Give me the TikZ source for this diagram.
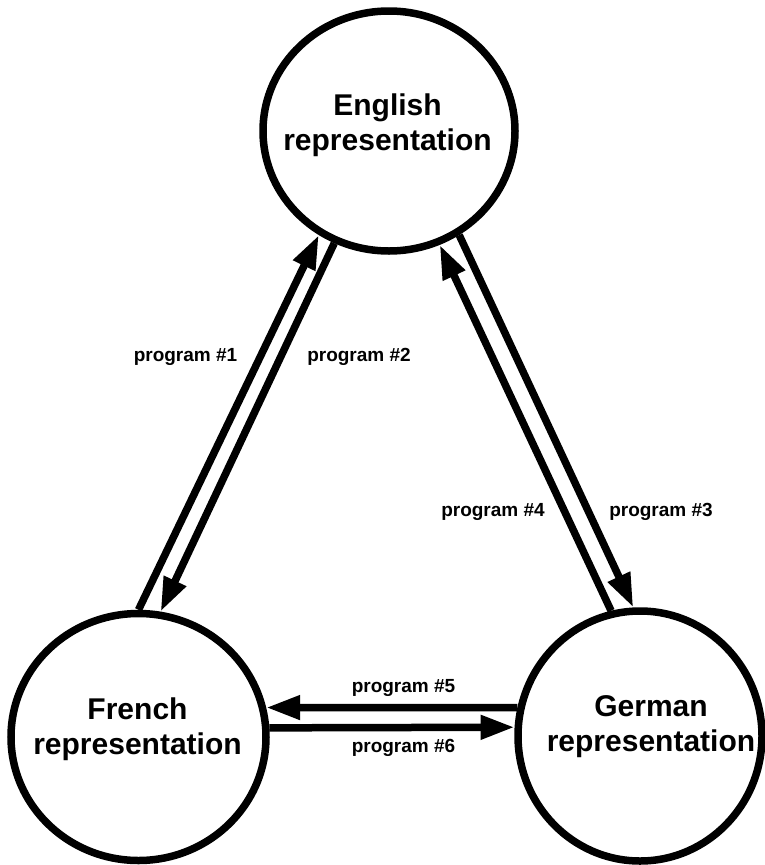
\documentclass[tikz,border=0pt]{standalone}
\usepackage{fontspec}
\setmainfont{Liberation Sans}
\usetikzlibrary{arrows.meta,shapes.geometric}
\begin{document}
\begin{tikzpicture}[x=1pt,y=-1pt,
  repr/.style={draw,ellipse,line width=7.5pt,inner sep=0pt},
  reprtext/.style={font=\bfseries\fontsize{30}{35}\selectfont,align=center,inner sep=0pt},
  conn/.style={line width=7.5pt,-{Triangle[length=34pt,width=23pt]}},
  lbl/.style={font=\bfseries\fontsize{19}{22}\selectfont,inner sep=0pt,anchor=base}]
\useasboundingbox (0,0) rectangle (765,865);
% circles
\node[repr,minimum width=252pt,minimum height=240pt] (en) at (389,131) {};
\node[repr,minimum width=255pt,minimum height=247pt] (fr) at (138.5,737) {};
\node[repr,minimum width=244pt,minimum height=250pt] (ge) at (640,736) {};
% circle texts
\node[reprtext] (ent) at (387.5,125.7) {English\\representation};
\node[reprtext] (frt) at (137.5,729.7) {French\\representation};
\node[reprtext] (get) at (651,726.7) {German\\representation};
% connectors
\draw[conn] (fr.90) -- (en.236);
\draw[conn] (en.244) -- (fr.80);
\draw[conn] (en.304) -- (ge.93);
\draw[conn] (ge.103) -- (en.294);
\draw[conn] (ge.167) -- (fr.13);
\draw[conn] (fr.4) -- (ge.176);
% labels
\node[lbl] (l1) at (185.5,361) {program \#1};
\node[lbl] (l2) at (359,361) {program \#2};
\node[lbl] (l3) at (661,516) {program \#3};
\node[lbl] (l4) at (493,516) {program \#4};
\node[lbl] (l5) at (403.5,692) {program \#5};
\node[lbl] (l6) at (403.5,752) {program \#6};
\end{tikzpicture}
\end{document}
